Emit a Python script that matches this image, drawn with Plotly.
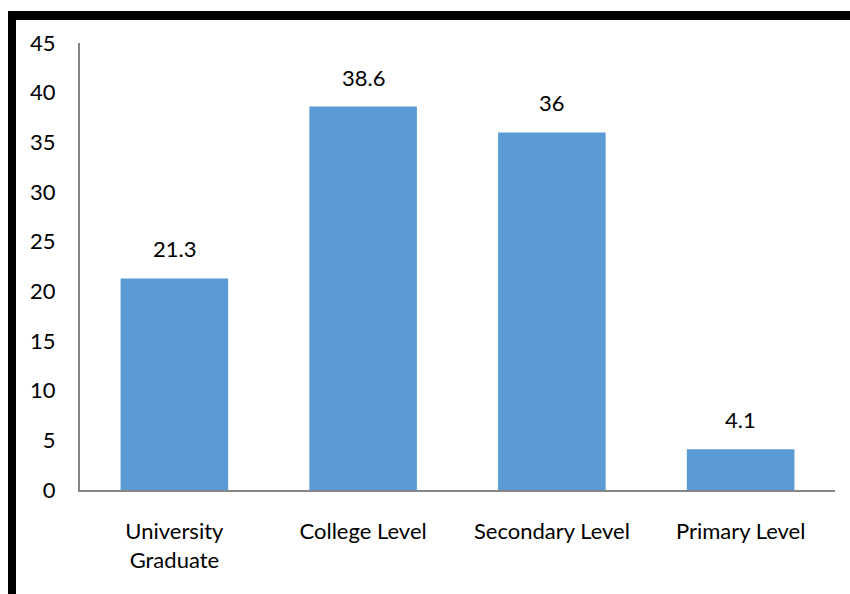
import plotly.graph_objects as go

categories = ["University<br>Graduate", "College Level", "Secondary Level", "Primary Level"]
values = [21.3, 38.6, 36, 4.1]
value_labels = ["21.3", "38.6", "36", "4.1"]
y_ticks = [0, 5, 10, 15, 20, 25, 30, 35, 40, 45]

W, H = 850, 594
L, R, T, B = 80, 15, 43, 104
pw, ph = W - L - R, H - T - B

def px_x(x):
    return (x - L) / pw

def px_y(y):
    return (H - B - y) / ph

FONT = "Lato"
FS = 22

fig = go.Figure()
fig.add_trace(go.Bar(
    x=categories, y=values,
    marker=dict(color="#5B9BD5", line=dict(width=0)),
    width=0.57,
))

for c, v, t in zip(categories, values, value_labels):
    fig.add_annotation(x=c, y=v, text=t, showarrow=False, yanchor="bottom",
                       yshift=14, font=dict(family=FONT, size=FS, color="#000000"))

# black frame decorations
fig.add_shape(type="rect", xref="paper", yref="paper",
              x0=px_x(8), x1=px_x(852), y0=px_y(20), y1=px_y(11),
              fillcolor="black", line=dict(width=0), layer="above")
fig.add_shape(type="rect", xref="paper", yref="paper",
              x0=px_x(8), x1=px_x(16), y0=px_y(596), y1=px_y(11),
              fillcolor="black", line=dict(width=0), layer="above")

fig.update_layout(
    width=W, height=H,
    margin=dict(l=L, r=R, t=T, b=B),
    paper_bgcolor="white", plot_bgcolor="white",
    showlegend=False,
    font=dict(family=FONT, size=FS, color="#000000"),
    xaxis=dict(showline=True, linecolor="#868686", linewidth=2, ticks="",
               showgrid=False, tickfont=dict(size=FS), ticklabelstandoff=21),
    yaxis=dict(range=[0, 45], tickvals=y_ticks, showline=True, linecolor="#868686",
               linewidth=2, ticks="", showgrid=False, zeroline=False,
               ticklabelstandoff=18, tickfont=dict(size=FS)),
)

fig.write_html("out.html")
